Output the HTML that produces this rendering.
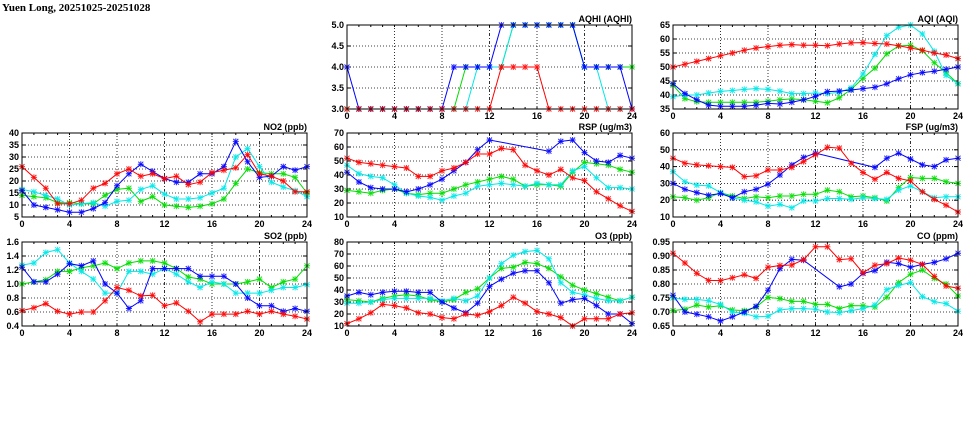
<!DOCTYPE html>
<html><head><meta charset="utf-8"><style>
html,body{margin:0;padding:0;background:#fff;width:975px;height:447px;overflow:hidden}
svg{display:block}
text{font-family:"Liberation Sans",sans-serif;font-weight:bold;font-size:9px;fill:#000}
</style></head><body>
<svg id="s" width="975" height="447" xmlns="http://www.w3.org/2000/svg">
<text x="2" y="11" style="font-size:11px;font-family:'Liberation Serif',serif">Yuen Long, 20251025-20251028</text>
</svg>
<script>
var N=null;
var P=[
{t:"AQHI (AQHI)",c:1,r:0,min:3,max:5,ticks:[3,3.5,4,4.5,5],fmt:1,
s:{g:[3,3,3,3,3,3,3,3,3,3,4,4,4,4,5,5,5,5,5,5,4,4,4,4,4],
c:[3,3,3,3,3,3,3,3,3,3,3,4,4,4,5,5,5,5,5,5,4,4,3,3,3],
b:[4,3,3,3,3,3,3,3,3,4,4,4,4,5,5,5,5,5,5,5,4,4,4,4,3],
r:[3,3,3,3,3,3,3,3,3,3,3,3,3,4,4,4,4,3,3,3,3,3,3,3,3]}},
{t:"AQI (AQI)",c:2,r:0,min:35,max:65,ticks:[35,40,45,50,55,60,65],fmt:0,
s:{r:[50,51,52,53,54,55,56,56.8,57.3,57.8,58,57.8,57.8,57.6,58.2,58.6,58.7,58.4,58.2,57.6,56.8,56,55,54.3,53],
b:[44,40.5,38.3,36.4,36,36,36,36.4,37,36.8,37.4,38.3,39.5,41.2,41.4,41.8,42.3,42.8,44,45.8,47.2,48,48.5,49.2,50],
g:[43.5,38.7,37.6,37.4,37.4,37.4,37.4,37.4,37.8,38.3,38.6,38.3,37.8,37.2,39,42,46,49.6,54.7,57.5,57.8,55.8,51.5,48,44],
c:[39.4,40,40,40.7,41.3,41.6,42,42.3,42,41.4,40.5,40.5,40.7,40.5,41,42.5,47.5,54.5,61.2,64.2,65,61.8,55.6,47,44]}},
{t:"NO2 (ppb)",c:0,r:1,min:5,max:40,ticks:[5,10,15,20,25,30,35,40],fmt:0,
s:{g:[14,13.5,13,11,11,10.5,10.5,14,16.5,17,11.5,13.5,10,9.5,9,9.5,10.5,12.5,19,25,23.5,23,23,21.5,15],
c:[16.5,15.5,14,12.5,10,10.5,11,9.5,11.5,12,16.5,18,14.5,12.5,12.5,13,15,17,30,33.5,26,19.5,17.5,16,13.5],
b:[16,10,9,8,7,7,8.5,11,18,23,27,24,21,19.5,19.5,23,23,26,36.5,28,21.5,22,26,24.5,26],
r:[26,21.5,17,10.5,10.5,12,17,19,23,25,22,23,21,22,18.5,19.5,23.5,24.5,25.5,31,23,22,20,15.5,15.5]}},
{t:"RSP (ug/m3)",c:1,r:1,min:10,max:70,ticks:[10,20,30,40,50,60,70],fmt:0,
s:{g:[29,28,27,29,30,27,26,27,27,30,33,35,37,39,37,32,33,33,32,42,49,48,47,44,42],
c:[47,41,39,38,33,27,25,24,22,25,27,32,33,34,33,32,34,33,33,43,46,38,31,31,30],
b:[42,35,31,30,30,28,30,33,37,43,49,58,65,N,N,N,N,57,64,65,56,50,49,54,52],
r:[52,49,48,47,46,45,39,39,43,45,49,55,55,59,58,47,43,40,44,38,36,28,23,18,14]}},
{t:"FSP (ug/m3)",c:2,r:1,min:10,max:60,ticks:[10,20,30,40,50,60],fmt:0,
s:{g:[22,21.5,20,21.5,24.5,22.5,21,22,21.5,22.5,22.5,23.5,23.5,26,25,22,22.5,21.5,19.5,27.5,33.5,33,33,31,30],
c:[37,31,29,28.5,24.5,21.5,20,19,16.5,17.5,15.5,19.5,19.5,21,21,20.5,21.5,21,20.5,26,28.5,25,21.5,22,22],
b:[30,26.5,24.5,23,24,21.5,25,26.5,29.5,35,41,45.5,48,N,N,N,N,39.5,45,48,44.5,41,40,44,45],
r:[45,42,41,40.5,40,39.5,34,34.5,38,38,39.5,43,47,51.5,51,42,36.5,32.5,36.5,33,31.5,25,20.5,17,13]}},
{t:"SO2 (ppb)",c:0,r:2,min:0.4,max:1.6,ticks:[0.4,0.6,0.8,1.0,1.2,1.4,1.6],fmt:1,
s:{g:[1.0,1.03,1.06,1.18,1.18,1.23,1.26,1.3,1.22,1.3,1.33,1.33,1.3,1.22,1.1,1.07,1.0,1.0,1.0,1.03,1.07,.95,1.03,1.07,1.26],
c:[1.27,1.3,1.45,1.49,1.3,1.18,1.07,.87,.87,1.18,1.18,1.14,1.22,1.14,1.03,.95,1.03,1.0,.87,.87,.87,.91,.95,.95,.99],
b:[1.24,1.03,1.03,1.14,1.29,1.26,1.33,1.0,.87,.65,.76,1.22,1.22,1.22,1.22,1.11,1.11,1.11,1.0,.8,.69,.69,.61,.65,.61],
r:[.62,.66,.72,.61,.57,.6,.6,.76,.95,.91,.83,.84,.69,.73,.61,.46,.57,.57,.57,.61,.57,.61,.57,.54,.5]}},
{t:"O3 (ppb)",c:1,r:2,min:10,max:80,ticks:[10,20,30,40,50,60,70,80],fmt:0,
s:{g:[32,31,30,33,35,36,35,32,30,32,38,41,50,58,59,63,62,58,51,44,40,37,34,31,34],
c:[29,29,30,32,33,33,33,33,31,33,31,35,50,62,69,72,73,66,46,38,36,33,31,31,34],
b:[35,38,36,38,39,39,38,38,30,25,21,29,43,49,54,56,56,46,29,32,33,27,20,20,12],
r:[12,16,21,28,27,25,21,20,17,16,20,19,22,27,34,29,22,20,17,10,16,16,16,20,21]}},
{t:"CO (ppm)",c:2,r:2,min:0.65,max:0.95,ticks:[0.65,0.7,0.75,0.8,0.85,0.9,0.95],fmt:2,
s:{g:[.705,.71,.725,.718,.722,.707,.705,.718,.752,.748,.738,.738,.727,.727,.712,.723,.722,.718,.753,.805,.835,.85,.82,.80,.757],
c:[.75,.745,.745,.74,.727,.70,.695,.683,.685,.707,.712,.712,.71,.70,.698,.705,.712,.725,.78,.795,.805,.755,.737,.73,.703],
b:[.76,.70,.692,.683,.668,.683,.70,.72,.778,.855,.888,.885,N,N,.79,.80,.838,.848,.878,.873,.86,.87,.877,.89,.91],
r:[.91,.875,.838,.813,.812,.822,.833,.82,.86,.866,.868,.887,.933,.933,.887,.89,.84,.867,.873,.893,.885,.87,.827,.793,.785]}}
];
var L=[22,347,673],T=[25,133,242],W=285,H=84;
var col={g:"#00dd00",c:"#00e8e8",b:"#0000ff",r:"#ff0000"};
var o="";
P.forEach(function(p){
 var x0=L[p.c],y0=T[p.r];
 function X(i){return x0+i*W/24}
 function Y(v){return y0+H-(v-p.min)/(p.max-p.min)*H}
 // grid
 p.ticks.forEach(function(v,k){var y=Y(v).toFixed(1);
  if(k>0&&k<p.ticks.length-1)o+='<line x1="'+x0+'" x2="'+(x0+W)+'" y1="'+y+'" y2="'+y+'" stroke="#000" stroke-width="0.8" stroke-dasharray="1,2"/>';
  o+='<line x1="'+x0+'" x2="'+(x0+4)+'" y1="'+y+'" y2="'+y+'" stroke="#000"/>';
  o+='<line x1="'+(x0+W-4)+'" x2="'+(x0+W)+'" y1="'+y+'" y2="'+y+'" stroke="#000"/>';
  o+='<text x="'+(x0-3)+'" y="'+(+y+3)+'" text-anchor="end">'+v.toFixed(p.fmt)+'</text>';});
 for(var h=0;h<=24;h+=4){var x=X(h).toFixed(1);
  if(h>0&&h<24)o+='<line x1="'+x+'" x2="'+x+'" y1="'+y0+'" y2="'+(y0+H)+'" stroke="#000" stroke-width="0.8" stroke-dasharray="'+((h==12||h==20)?'3,2,1,2':'1,2')+'"/>';
  o+='<text x="'+x+'" y="'+(y0+H+10)+'" text-anchor="middle">'+h+'</text>';}
 for(var h=1;h<24;h++){var x=X(h).toFixed(1);o+='<line x1="'+x+'" x2="'+x+'" y1="'+(y0+H)+'" y2="'+(y0+H-2)+'" stroke="#000"/><line x1="'+x+'" x2="'+x+'" y1="'+y0+'" y2="'+(y0+2)+'" stroke="#000"/>';}
 ["g","c","b","r"].forEach(function(k){var d=p.s[k],pts=[],m="";
  d.forEach(function(v,i){if(v===null)return;var x=X(i),y=Y(v);pts.push(x.toFixed(1)+","+y.toFixed(1));
   m+='M'+(x-2.5).toFixed(1)+','+(y-2.5).toFixed(1)+'l5,5M'+(x-2.5).toFixed(1)+','+(y+2.5).toFixed(1)+'l5,-5M'+(x-3).toFixed(1)+','+y.toFixed(1)+'h6M'+x.toFixed(1)+','+(y-3).toFixed(1)+'v6';});
  o+='<polyline points="'+pts.join(" ")+'" fill="none" stroke="'+col[k]+'" stroke-width="1"/>';
  o+='<path d="'+m+'" stroke="'+col[k]+'" stroke-width="1" fill="none" opacity="0.85"/>';});
 o+='<rect x="'+x0+'" y="'+y0+'" width="'+W+'" height="'+H+'" fill="none" stroke="#000" stroke-width="1"/>';
 o+='<text x="'+(x0+W)+'" y="'+(y0-3)+'" text-anchor="end">'+p.t+'</text>';
});
document.getElementById("s").insertAdjacentHTML("beforeend",o);
</script>
</body></html>
